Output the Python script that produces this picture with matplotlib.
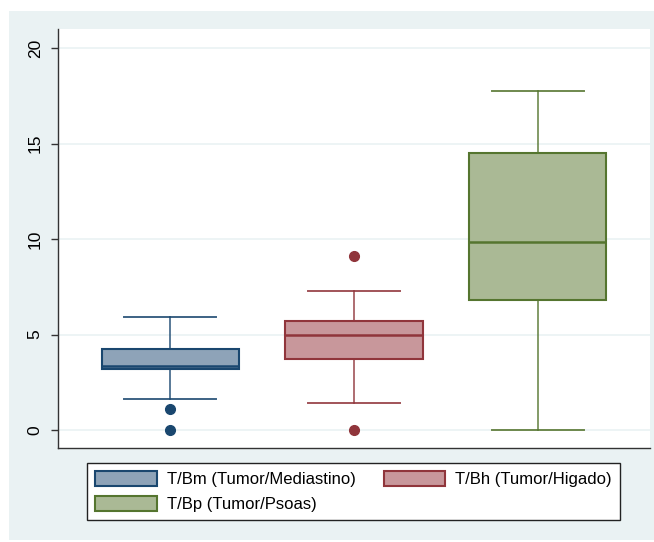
import matplotlib
matplotlib.use("Agg")
import matplotlib.pyplot as plt
from matplotlib.patches import Rectangle, Patch

plt.rcParams['font.family'] = ['Liberation Sans', 'DejaVu Sans']

# box plot summary values
labels = ['T/Bm (Tumor/Mediastino)', 'T/Bh (Tumor/Higado)', 'T/Bp (Tumor/Psoas)']
q1 = [3.19, 3.72, 6.80]
med = [3.35, 4.97, 9.84]
q3 = [4.24, 5.71, 14.50]
whislo = [1.62, 1.41, 0.0]
whishi = [5.92, 7.30, 17.75]
outliers = [[1.1, 0.0], [9.1, 0.0], []]

edge_colors = ['#1a476f', '#90353b', '#55752f']
fill_colors = ['#8ea3b8', '#c8979b', '#aab995']

fig = plt.figure(figsize=(6.54, 5.42), dpi=100)
fig.patch.set_facecolor('white')
fig.patches.append(Rectangle((9/654, 2/542), 645/654, 529/542, transform=fig.transFigure,
                             facecolor='#eaf2f3', edgecolor='none', zorder=-5))

ax = fig.add_axes([58/654, 94/542, 592/654, 419/542])
ax.set_facecolor('white')

for i in range(3):
    stats = [dict(med=med[i], q1=q1[i], q3=q3[i], whislo=whislo[i], whishi=whishi[i],
                  fliers=outliers[i])]
    c = edge_colors[i]
    ax.bxp(stats, positions=[i + 1], widths=0.745, capwidths=0.5, patch_artist=True,
           showfliers=True,
           boxprops=dict(facecolor=fill_colors[i], edgecolor=c, linewidth=1.5),
           medianprops=dict(color=c, linewidth=1.8),
           whiskerprops=dict(color=c, linewidth=1.2, alpha=0.85),
           capprops=dict(color=c, linewidth=1.4, alpha=0.85),
           flierprops=dict(marker='o', markerfacecolor=c, markeredgecolor=c, markersize=7))

ax.set_xlim(0.391, 3.609)
ax.set_ylim(-0.94, 21.0)
ax.set_xticks([])
ax.set_yticks([0, 5, 10, 15, 20])
ax.yaxis.grid(True, color='#eaf2f3', linewidth=1.2)
ax.set_axisbelow(True)
ax.tick_params(axis='y', length=5, width=1, color='#333333', labelsize=12.5, pad=6)
for lab in ax.get_yticklabels():
    lab.set_rotation(90)
    lab.set_va('center')
for s in ['top', 'right']:
    ax.spines[s].set_visible(False)
for s in ['left', 'bottom']:
    ax.spines[s].set_color('#333333')
    ax.spines[s].set_linewidth(1)

handles = [Patch(facecolor=fill_colors[i], edgecolor=edge_colors[i], linewidth=1.5, label=labels[i])
           for i in range(3)]
order = [0, 2, 1]
leg = fig.legend([handles[k] for k in order], [labels[k] for k in order], ncol=2,
                 loc='center', bbox_to_anchor=(353.5/654, 50.5/542), fontsize=12,
                 frameon=True, fancybox=False, edgecolor='#222222', framealpha=1,
                 handlelength=3.7, handleheight=1.05, handletextpad=0.6,
                 columnspacing=1.7, labelspacing=0.5, borderpad=0.45)
leg.get_frame().set_linewidth(1)

fig.savefig('out.png', dpi=100, facecolor=fig.get_facecolor())
